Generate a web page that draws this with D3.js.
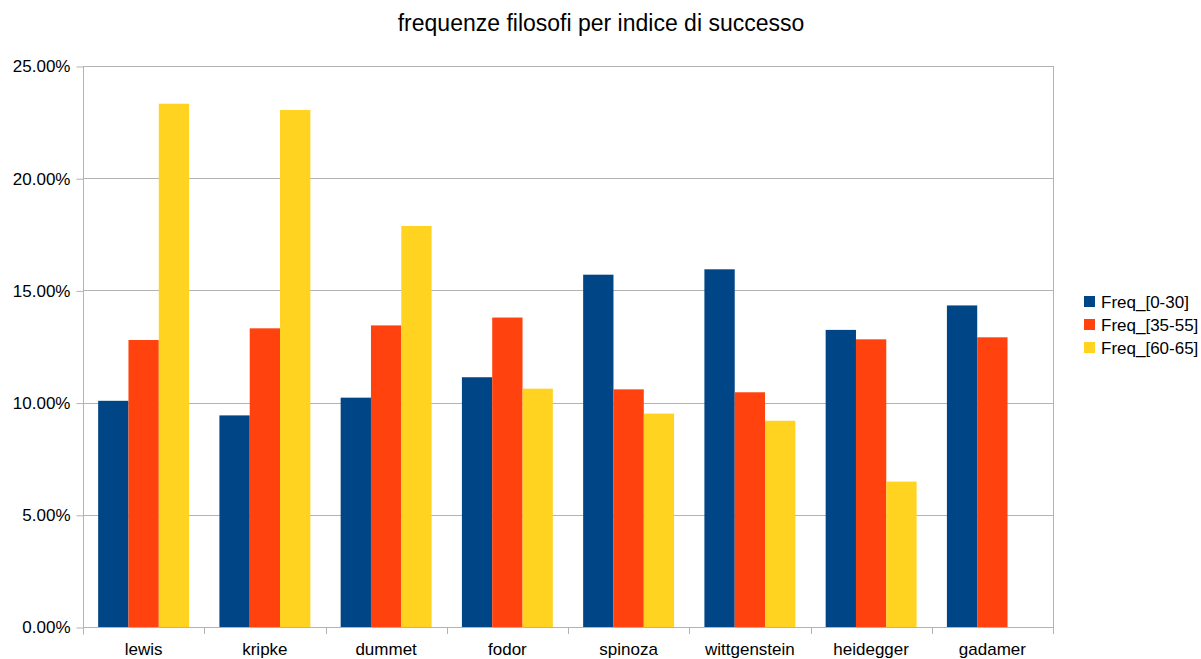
<!DOCTYPE html>
<html>
<head>
<meta charset="utf-8">
<script src="https://cdn.jsdelivr.net/npm/d3@7"></script>
<style>
  body { margin: 0; background: #fff; }
  text { font-family: "Liberation Sans", Arial, sans-serif; fill: #000; }
</style>
</head>
<body>
<div id="main"></div>
<script>
const categories = ["lewis", "kripke", "dummet", "fodor", "spinoza", "wittgenstein", "heidegger", "gadamer"];
const seriesNames = ["Freq_[0-30]", "Freq_[35-55]", "Freq_[60-65]"];
const freq0_30 = [10.08, 9.43, 10.22, 11.13, 15.70, 15.94, 13.24, 14.33];
const freq35_55 = [12.79, 13.31, 13.44, 13.79, 10.59, 10.46, 12.82, 12.91];
const freq60_65 = [23.32, 23.04, 17.87, 10.62, 9.51, 9.19, 6.48, 0];
const yTicks = [0, 5, 10, 15, 20, 25];
const colors = ["#004586", "#ff420e", "#ffd320"];

const width = 1201, height = 659;
const plotLeft = 83, plotRight = 1053, plotTop = 66, plotBottom = 627;

const svg = d3.select("#main").append("svg")
  .attr("width", width)
  .attr("height", height);

const x = d3.scaleBand().domain(categories).range([plotLeft, plotRight]);
const xInner = d3.scaleBand().domain(seriesNames)
  .range([x.bandwidth() * 0.125, x.bandwidth() * 0.875]);
const y = d3.scaleLinear().domain([0, 25]).range([plotBottom, plotTop]);

// gridlines
svg.append("g")
  .selectAll("line")
  .data(yTicks)
  .enter()
  .append("line")
  .attr("x1", plotLeft)
  .attr("x2", plotRight)
  .attr("y1", d => Math.round(y(d)) + 0.5)
  .attr("y2", d => Math.round(y(d)) + 0.5)
  .attr("stroke", "#b3b3b3");

// right border
svg.append("line")
  .attr("x1", plotRight + 0.5).attr("x2", plotRight + 0.5)
  .attr("y1", plotTop).attr("y2", plotBottom)
  .attr("stroke", "#b3b3b3");

// bars
const seriesData = [freq0_30, freq35_55, freq60_65];
const groups = svg.append("g")
  .selectAll("g")
  .data(categories)
  .enter()
  .append("g")
  .attr("transform", d => "translate(" + x(d) + ",0)");

groups.selectAll("rect")
  .data((d, i) => seriesNames.map((s, j) => ({ s: s, v: seriesData[j][i], j: j })))
  .enter()
  .append("rect")
  .attr("x", d => xInner(d.s))
  .attr("width", xInner.bandwidth())
  .attr("y", d => y(d.v))
  .attr("height", d => y(0) - y(d.v))
  .attr("fill", d => colors[d.j]);

// Y axis
const yAxis = d3.axisLeft(y)
  .tickValues(yTicks)
  .tickSize(7)
  .tickPadding(6)
  .tickFormat(d => d.toFixed(2) + "%");
const gy = svg.append("g")
  .attr("transform", "translate(" + (plotLeft + 0.5) + ",0.5)")
  .call(yAxis);
gy.select(".domain").attr("stroke", "#b3b3b3").attr("d", "M0," + plotTop + "V" + (plotBottom + 7));
gy.selectAll(".tick line").attr("stroke", "#b3b3b3");
gy.selectAll(".tick text").attr("font-size", 17).attr("font-family", "Liberation Sans, Arial, sans-serif").attr("fill", "#000");

// X axis ticks between categories
const xEdges = categories.map(c => x(c)).concat([plotRight]);
svg.append("g")
  .selectAll("line")
  .data(xEdges)
  .enter()
  .append("line")
  .attr("x1", d => Math.round(d) + 0.5)
  .attr("x2", d => Math.round(d) + 0.5)
  .attr("y1", plotBottom)
  .attr("y2", plotBottom + 7)
  .attr("stroke", "#b3b3b3");

svg.append("g")
  .selectAll("text")
  .data(categories)
  .enter()
  .append("text")
  .attr("x", d => x(d) + x.bandwidth() / 2)
  .attr("y", 655)
  .attr("text-anchor", "middle")
  .attr("font-size", 17)
  .text(d => d);

// title
svg.append("text")
  .attr("x", 601)
  .attr("y", 31)
  .attr("text-anchor", "middle")
  .attr("font-size", 23)
  .text("frequenze filosofi per indice di successo");

// legend
const legend = svg.append("g").attr("transform", "translate(1084,293)");
legend.selectAll("rect")
  .data(seriesNames)
  .enter()
  .append("rect")
  .attr("x", 0)
  .attr("y", (d, i) => i * 23 + 3)
  .attr("width", 11)
  .attr("height", 11)
  .attr("fill", (d, i) => colors[i]);
legend.selectAll("text")
  .data(seriesNames)
  .enter()
  .append("text")
  .attr("x", 17)
  .attr("y", (d, i) => i * 23 + 15)
  .attr("font-size", 17)
  .text(d => d);
</script>
</body>
</html>
